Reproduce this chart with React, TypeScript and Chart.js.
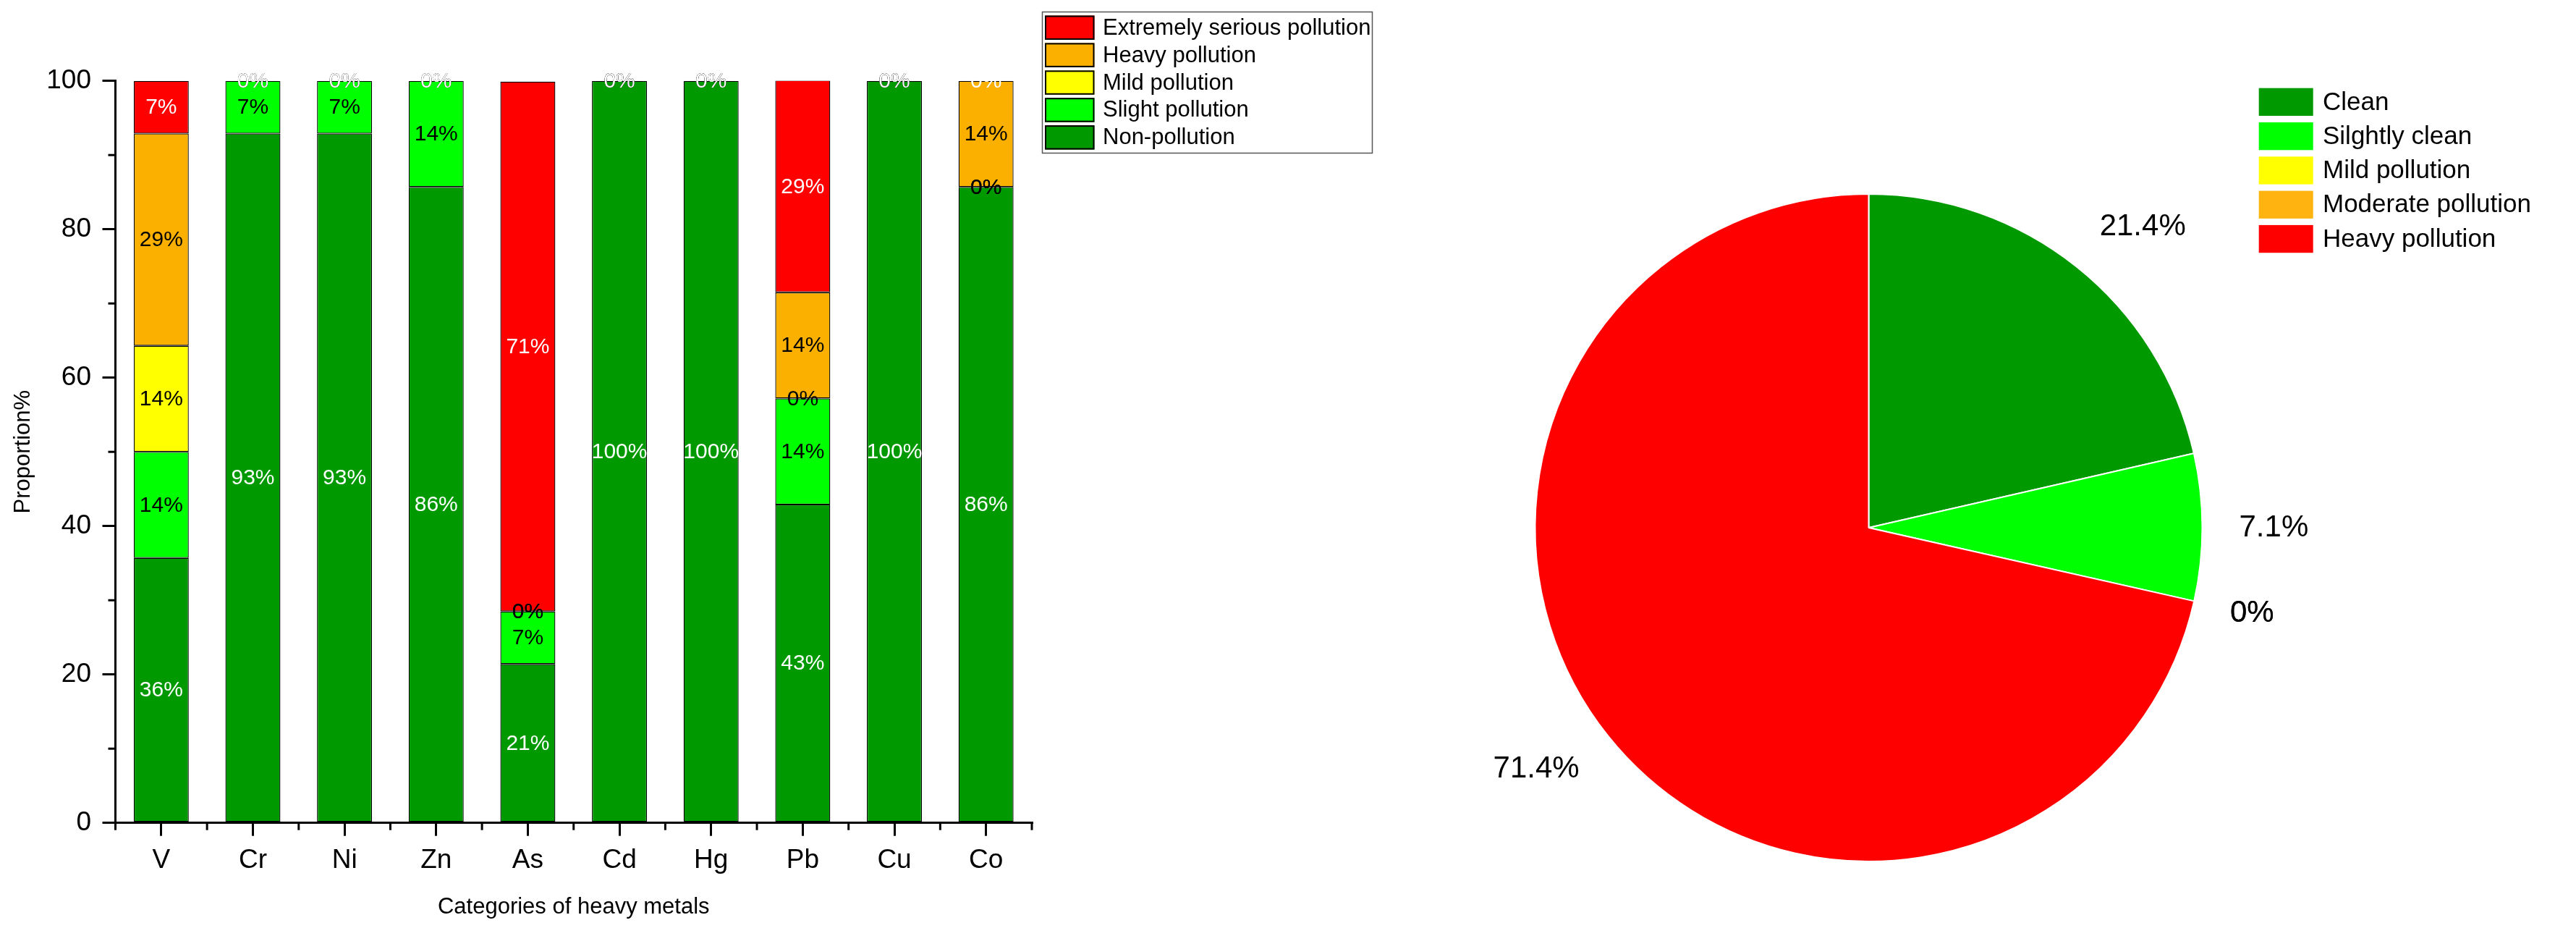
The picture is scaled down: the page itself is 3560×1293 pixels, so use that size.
import React, { useEffect, useRef } from 'react';
import { Chart, registerables } from 'chart.js';

Chart.register(...registerables);

// ---------- data ----------
const categories = ['V', 'Cr', 'Ni', 'Zn', 'As', 'Cd', 'Hg', 'Pb', 'Cu', 'Co'];
const nonPollution = [35.7, 92.9, 92.9, 85.7, 21.4, 100, 100, 42.9, 100, 85.7];
const slightPollution = [14.3, 7.1, 7.1, 14.3, 7.1, 0, 0, 14.3, 0, 0];
const mildPollution = [14.3, 0, 0, 0, 0, 0, 0, 0, 0, 0];
const heavyPollution = [28.6, 0, 0, 0, 0, 0, 0, 14.3, 0, 14.3];
const extremePollution = [7.1, 0, 0, 0, 71.4, 0, 0, 28.6, 0, 0];
const yTicks = [0, 20, 40, 60, 80, 100];

const pieLabels = ['Clean', 'Silghtly clean', 'Mild pollution', 'Moderate pollution', 'Heavy pollution'];
const pieValues = [21.4, 7.1, 0, 0, 71.4];

// ---------- styles ----------
const FONT = "'Liberation Sans', Arial, Helvetica, sans-serif";
const W = 3560;
const H = 1293;
const barColors = ['#009900', '#00FF00', '#FFFF00', '#FBB000', '#FF0000'];
const barLabelColors = ['#FFFFFF', '#000000', '#000000', '#000000', '#FFFFFF'];
const pieColors = ['#009900', '#00FF00', '#FFFF00', '#FFB310', '#FF0000'];

type LegendSpec = {
  box?: { x: number; y: number; w: number; h: number };
  swX: number; swY: number; swW: number; swH: number; pitch: number;
  textX: number; fontSize: number; swBorder: number;
};

function drawLegend(ctx: CanvasRenderingContext2D, items: { label: string; color: string }[], s: LegendSpec) {
  ctx.save();
  if (s.box) {
    ctx.strokeStyle = '#555';
    ctx.lineWidth = 1.5;
    ctx.strokeRect(s.box.x, s.box.y, s.box.w, s.box.h);
  }
  ctx.font = `${s.fontSize}px ${FONT}`;
  ctx.textAlign = 'left';
  ctx.textBaseline = 'middle';
  items.forEach((it, i) => {
    const y = s.swY + i * s.pitch;
    ctx.fillStyle = it.color;
    ctx.fillRect(s.swX, y, s.swW, s.swH);
    if (s.swBorder > 0) {
      ctx.strokeStyle = '#000';
      ctx.lineWidth = s.swBorder;
      ctx.strokeRect(s.swX + s.swBorder / 2, y + s.swBorder / 2, s.swW - s.swBorder, s.swH - s.swBorder);
    }
    ctx.fillStyle = '#000';
    ctx.fillText(it.label, s.textX, y + s.swH / 2 + 1);
  });
  ctx.restore();
}

const barPlot = { left: 159.5, right: 1426, top: 111.7, bottom: 1136.7 };
const pieBox = { cx: 2582.5, cy: 729, r: 462 };

export default function App() {
  const barRef = useRef<HTMLCanvasElement | null>(null);
  const pieRef = useRef<HTMLCanvasElement | null>(null);

  useEffect(() => {
    Chart.defaults.font.family = FONT;
    Chart.defaults.color = '#000';

    const minorTicks = {
      id: 'minorTicks',
      afterDraw(chart: any) {
        const { ctx, chartArea } = chart;
        const xs = chart.scales.x;
        const ys = chart.scales.y;
        ctx.save();
        ctx.strokeStyle = '#000';
        ctx.lineWidth = 3;
        for (let i = 0; i < yTicks.length - 1; i++) {
          const py = ys.getPixelForValue((yTicks[i] + yTicks[i + 1]) / 2);
          ctx.beginPath();
          ctx.moveTo(chartArea.left - 10, py);
          ctx.lineTo(chartArea.left, py);
          ctx.stroke();
        }
        const bounds: number[] = [xs.left];
        for (let i = 0; i < categories.length - 1; i++) {
          bounds.push((xs.getPixelForValue(i) + xs.getPixelForValue(i + 1)) / 2);
        }
        bounds.push(xs.right);
        bounds.forEach((px) => {
          ctx.beginPath();
          ctx.moveTo(px, chartArea.bottom);
          ctx.lineTo(px, chartArea.bottom + 10);
          ctx.stroke();
        });
        ctx.restore();
      },
    };

    const barLabels = {
      id: 'barLabels',
      afterDatasetsDraw(chart: any) {
        const { ctx } = chart;
        ctx.save();
        ctx.font = `30px ${FONT}`;
        ctx.textAlign = 'center';
        ctx.textBaseline = 'middle';
        chart.data.datasets.forEach((ds: any, di: number) => {
          const meta = chart.getDatasetMeta(di);
          ctx.fillStyle = ds.labelColor;
          meta.data.forEach((el: any, i: number) => {
            const v = ds.data[i];
            const { x, y, base } = el.getProps(['x', 'y', 'base'], true);
            ctx.fillText(`${Math.round(v)}%`, x, (y + base) / 2 + 1);
          });
        });
        ctx.restore();
      },
      afterDraw(chart: any) {
        const items = chart.data.datasets
          .map((d: any) => ({ label: d.label, color: d.backgroundColor }))
          .reverse();
        drawLegend(chart.ctx, items, {
          box: { x: 1440.5, y: 16.5, w: 456, h: 195 },
          swX: 1444, swY: 21.5, swW: 68.5, swH: 33.5, pitch: 37.9,
          textX: 1524, fontSize: 31, swBorder: 2,
        });
      },
    };

    const names = ['Non-pollution', 'Slight pollution', 'Mild pollution', 'Heavy pollution', 'Extremely serious pollution'];
    const series = [nonPollution, slightPollution, mildPollution, heavyPollution, extremePollution];

    const bar = new Chart(barRef.current as HTMLCanvasElement, {
      type: 'bar',
      data: {
        labels: categories,
        datasets: series.map((s, i) => ({
          label: names[i],
          data: s,
          backgroundColor: barColors[i],
          borderColor: '#000',
          borderWidth: 1.3,
          borderSkipped: false,
          barPercentage: 0.6,
          categoryPercentage: 1,
          labelColor: barLabelColors[i],
        })) as any,
      },
      options: {
        responsive: false,
        animation: false,
        layout: { padding: { left: 0, top: barPlot.top, right: W - barPlot.right, bottom: 0 } },
        plugins: { legend: { display: false }, tooltip: { enabled: false } },
        scales: {
          x: {
            stacked: true,
            offset: true,
            grid: { offset: false, drawOnChartArea: false, drawTicks: true, tickLength: 18, tickWidth: 3, tickColor: '#000', lineWidth: 3 },
            border: { display: true, color: '#000', width: 3 },
            ticks: { font: { size: 37 }, color: '#000', padding: 12, maxRotation: 0, autoSkip: false },
            title: { display: true, text: 'Categories of heavy metals', font: { size: 31 }, color: '#000', padding: { top: 0, bottom: 21 } },
            afterFit: (s: any) => { s.height = H - barPlot.bottom; },
          },
          y: {
            stacked: true,
            min: 0,
            max: 100,
            afterBuildTicks: (s: any) => { s.ticks = yTicks.map((v) => ({ value: v })); },
            grid: { drawOnChartArea: false, drawTicks: true, tickLength: 18, tickWidth: 3, tickColor: '#000', lineWidth: 3 },
            border: { display: true, color: '#000', width: 3 },
            ticks: { font: { size: 37 }, color: '#000', padding: 15.5 },
            title: { display: true, text: 'Proportion%', font: { size: 31 }, color: '#000', padding: { top: 14, bottom: 0 } },
            afterFit: (s: any) => { s.width = barPlot.left; },
          },
        },
      } as any,
      plugins: [minorTicks, barLabels],
    });

    const pieLabelPlugin = {
      id: 'pieLabels',
      afterDatasetsDraw(chart: any) {
        const { ctx } = chart;
        const meta = chart.getDatasetMeta(0);
        const ds = chart.data.datasets[0];
        ctx.save();
        ctx.font = `42px ${FONT}`;
        ctx.fillStyle = '#000';
        ctx.textAlign = 'center';
        ctx.textBaseline = 'middle';
        meta.data.forEach((el: any, i: number) => {
          const v = ds.data[i];
          const { x, y, startAngle, endAngle, outerRadius } = el.getProps(['x', 'y', 'startAngle', 'endAngle', 'outerRadius'], true);
          const mid = (startAngle + endAngle) / 2;
          const dx = Math.cos(mid);
          const dy = Math.sin(mid);
          const d = outerRadius + 51;
          const px = x + d * dx;
          const py = y + d * dy;
          const txt = v === 0 ? '0%' : `${v.toFixed(1)}%`;
          const w = ctx.measureText(txt).width;
          const hh = 32;
          const cx = px + (Math.abs(dx) > 0.1 ? Math.sign(dx) * w / 2 : 0);
          const cy = py + dy * hh / 2 * 1.3;
          ctx.fillText(txt, cx, cy + 1);
        });
        ctx.restore();
      },
      afterDraw(chart: any) {
        const items = chart.data.labels.map((l: string, i: number) => ({ label: l, color: chart.data.datasets[0].backgroundColor[i] }));
        drawLegend(chart.ctx, items, {
          swX: 3121.7, swY: 121.7, swW: 75, swH: 38.3, pitch: 47.3,
          textX: 3210, fontSize: 35, swBorder: 0,
        });
      },
    };

    const side = pieBox.r * 2;
    const pie = new Chart(pieRef.current as HTMLCanvasElement, {
      type: 'pie',
      data: {
        labels: pieLabels,
        datasets: [{ data: pieValues, backgroundColor: pieColors, borderColor: '#FFFFFF', borderWidth: 2 }],
      },
      options: {
        responsive: false,
        animation: false,
        layout: {
          padding: {
            left: pieBox.cx - pieBox.r,
            top: pieBox.cy - pieBox.r,
            right: W - (pieBox.cx - pieBox.r) - side,
            bottom: H - (pieBox.cy - pieBox.r) - side,
          },
        },
        plugins: { legend: { display: false }, tooltip: { enabled: false } },
      } as any,
      plugins: [pieLabelPlugin],
    });

    return () => {
      bar.destroy();
      pie.destroy();
    };
  }, []);

  const cstyle: React.CSSProperties = { position: 'absolute', left: 0, top: 0, width: W, height: H };
  return (
    <div style={{ position: 'fixed', left: 0, top: 0, width: W, height: H, background: '#fff', overflow: 'hidden' }}>
      <canvas ref={barRef} width={W} height={H} style={cstyle} />
      <canvas ref={pieRef} width={W} height={H} style={cstyle} />
    </div>
  );
}
